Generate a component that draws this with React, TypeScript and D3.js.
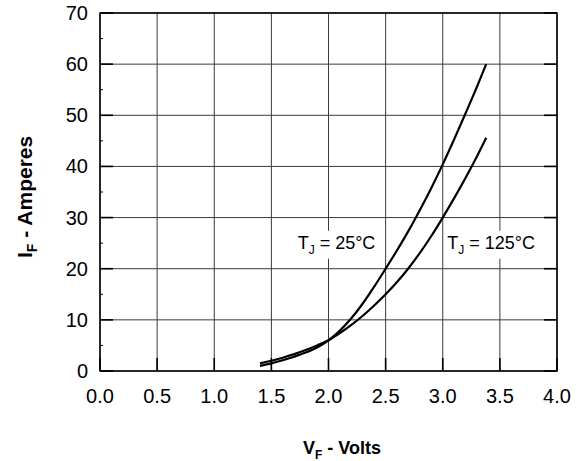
import { useRef, useEffect } from 'react';
import * as d3 from 'd3';

// forward voltage (V) vs current (A)
const vf25 = [1.4, 1.5, 1.6, 1.7, 1.8, 1.9, 2.0, 2.1, 2.2, 2.3, 2.4, 2.5, 2.6, 2.7, 2.8, 2.9, 3.0, 3.1, 3.2, 3.3, 3.38];
const if25 = [1.0, 1.5, 2.1, 2.8, 3.6, 4.6, 6.0, 7.9, 10.3, 13.2, 16.5, 20.0, 23.6, 27.4, 31.5, 35.8, 40.4, 45.3, 50.4, 55.6, 60.0];
const vf125 = [1.4, 1.5, 1.6, 1.7, 1.8, 1.9, 2.0, 2.1, 2.2, 2.3, 2.4, 2.5, 2.6, 2.7, 2.8, 2.9, 3.0, 3.1, 3.2, 3.3, 3.38];
const if125 = [1.5, 2.0, 2.6, 3.3, 4.1, 5.0, 6.0, 7.4, 9.0, 10.8, 12.8, 15.0, 17.4, 20.1, 23.1, 26.4, 30.0, 33.8, 37.8, 42.0, 45.6];

const xTicks = [0, 0.5, 1.0, 1.5, 2.0, 2.5, 3.0, 3.5, 4.0];
const yTicks = [0, 10, 20, 30, 40, 50, 60, 70];
const yMinor = [5, 15, 25, 35, 45, 55, 65];

const W = 588;
const H = 461;
const margin = { top: 13, right: 31, bottom: 90, left: 100 };
const font = 'Arial, "Liberation Sans", sans-serif';

export default function App() {
  const svgRef = useRef<SVGSVGElement>(null);

  useEffect(() => {
    if (!svgRef.current) return;
    const svg = d3.select(svgRef.current);
    svg.selectAll('*').remove();

    const innerW = W - margin.left - margin.right;
    const innerH = H - margin.top - margin.bottom;
    const x = d3.scaleLinear().domain([0, 4]).range([0, innerW]);
    const y = d3.scaleLinear().domain([0, 70]).range([innerH, 0]);

    svg.append('rect').attr('width', W).attr('height', H).attr('fill', '#fff');
    const g = svg.append('g').attr('transform', `translate(${margin.left},${margin.top})`);

    // grid
    g.selectAll('.vg')
      .data(xTicks)
      .enter()
      .append('line')
      .attr('x1', (d) => x(d))
      .attr('x2', (d) => x(d))
      .attr('y1', 0)
      .attr('y2', innerH)
      .attr('stroke', '#3a3a3a')
      .attr('stroke-width', 1);
    g.selectAll('.hg')
      .data(yTicks)
      .enter()
      .append('line')
      .attr('y1', (d) => y(d))
      .attr('y2', (d) => y(d))
      .attr('x1', 0)
      .attr('x2', innerW)
      .attr('stroke', '#3a3a3a')
      .attr('stroke-width', 1);

    // inward ticks
    const tk = 13;
    yTicks.forEach((d) => {
      g.append('line').attr('x1', 0).attr('x2', tk).attr('y1', y(d)).attr('y2', y(d)).attr('stroke', '#000').attr('stroke-width', 1.6);
      g.append('line').attr('x1', innerW - tk).attr('x2', innerW).attr('y1', y(d)).attr('y2', y(d)).attr('stroke', '#000').attr('stroke-width', 1.6);
    });
    yMinor.forEach((d) => {
      g.append('line').attr('x1', 0).attr('x2', 3).attr('y1', y(d)).attr('y2', y(d)).attr('stroke', '#000').attr('stroke-width', 1);
    });
    xTicks.forEach((d) => {
      g.append('line').attr('x1', x(d)).attr('x2', x(d)).attr('y1', innerH - tk).attr('y2', innerH).attr('stroke', '#000').attr('stroke-width', 1.6);
    });

    // frame
    g.append('rect')
      .attr('width', innerW)
      .attr('height', innerH)
      .attr('fill', 'none')
      .attr('stroke', '#000')
      .attr('stroke-width', 1.5);

    // tick labels
    g.selectAll('.xl')
      .data(xTicks)
      .enter()
      .append('text')
      .attr('x', (d) => x(d))
      .attr('y', innerH + 32)
      .attr('text-anchor', 'middle')
      .attr('font-family', font)
      .attr('font-size', 20)
      .text((d) => d.toFixed(1));
    g.selectAll('.yl')
      .data(yTicks)
      .enter()
      .append('text')
      .attr('x', -12)
      .attr('y', (d) => y(d) + 7)
      .attr('text-anchor', 'end')
      .attr('font-family', font)
      .attr('font-size', 20)
      .text((d) => String(d));

    // curves
    const line = d3
      .line<[number, number]>()
      .x((d) => x(d[0]))
      .y((d) => y(d[1]))
      .curve(d3.curveMonotoneX);
    const s25 = vf25.map((v, i) => [v, if25[i]] as [number, number]);
    const s125 = vf125.map((v, i) => [v, if125[i]] as [number, number]);
    [s25, s125].forEach((s) => {
      g.append('path')
        .datum(s)
        .attr('fill', 'none')
        .attr('stroke', '#000')
        .attr('stroke-width', 2.2)
        .attr('d', line);
    });

    // curve labels
    const labels: { v: number; i: number; t: string }[] = [
      { v: 1.73, i: 23.9, t: '25°C' },
      { v: 3.04, i: 23.9, t: '125°C' },
    ];
    labels.forEach((l) => {
      const t = g
        .append('text')
        .attr('x', x(l.v))
        .attr('y', y(l.i))
        .attr('font-family', font)
        .attr('font-size', 18);
      t.append('tspan').text('T');
      t.append('tspan').attr('font-size', 12).attr('dy', 5).text('J');
      t.append('tspan').attr('dy', -5).text(` = ${l.t}`);
      const bb = (t.node() as SVGTextElement).getBBox();
      g.insert('rect', 'text')
        .attr('x', bb.x - 3)
        .attr('y', bb.y - 2)
        .attr('width', bb.width + 6)
        .attr('height', bb.height + 4)
        .attr('fill', '#fff');
    });

    // axis titles
    const xt = svg
      .append('text')
      .attr('x', 303)
      .attr('y', 454)
      .attr('font-family', font)
      .attr('font-size', 18)
      .attr('font-weight', 'bold');
    xt.append('tspan').text('V');
    xt.append('tspan').attr('font-size', 12).attr('dy', 5).text('F');
    xt.append('tspan').attr('dy', -5).text(' - Volts');

    const yt = svg
      .append('text')
      .attr('transform', 'translate(32,258) rotate(-90)')
      .attr('font-family', font)
      .attr('font-size', 21)
      .attr('font-weight', 'bold');
    yt.append('tspan').text('I');
    yt.append('tspan').attr('font-size', 14).attr('dy', 5).text('F');
    yt.append('tspan').attr('dy', -5).text(' - Amperes');
  }, []);

  return (
    <svg
      ref={svgRef}
      width={W}
      height={H}
      viewBox={`0 0 ${W} ${H}`}
      style={{ position: 'absolute', left: 0, top: 0 }}
    />
  );
}
